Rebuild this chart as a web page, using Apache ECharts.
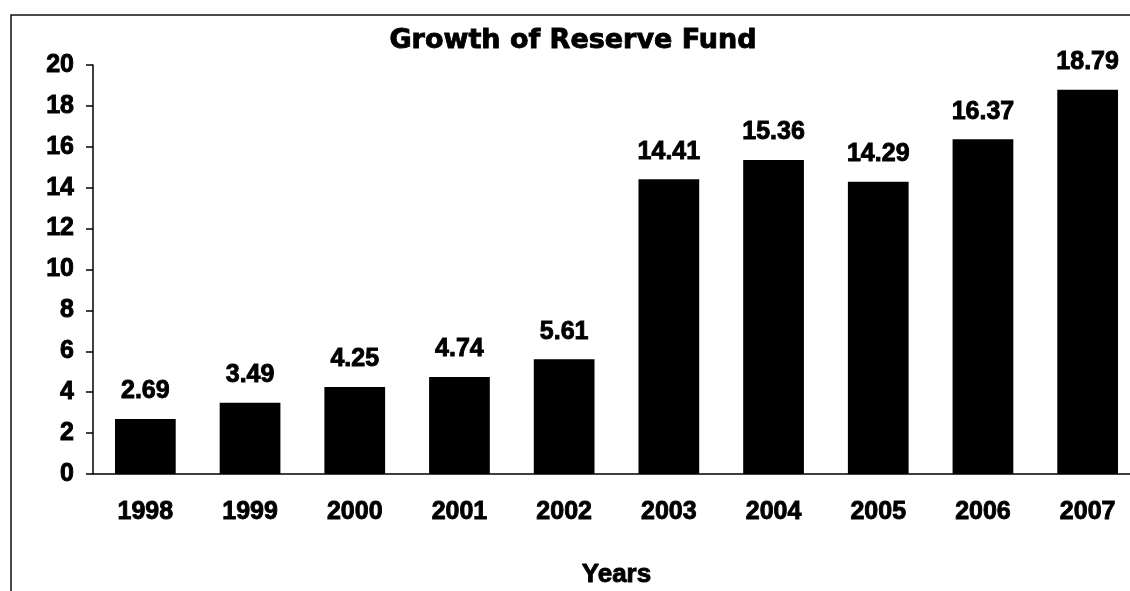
<!DOCTYPE html>
<html>
<head>
<meta charset="utf-8">
<title>Growth of Reserve Fund</title>
<script src="https://cdn.jsdelivr.net/npm/echarts@6/dist/echarts.min.js"></script>
<style>
  html, body { margin: 0; padding: 0; background: #ffffff; }
  #chart { width: 1130px; height: 591px; }
</style>
</head>
<body>
<div id="chart"></div>
<script>
// Reserve fund by year
const years = ['1998', '1999', '2000', '2001', '2002', '2003', '2004', '2005', '2006', '2007'];
const reserveFund = [2.69, 3.49, 4.25, 4.74, 5.61, 14.41, 15.36, 14.29, 16.37, 18.79];
const yTicks = [0, 2, 4, 6, 8, 10, 12, 14, 16, 18, 20];

const FONT = "'Liberation Sans', Arial, sans-serif";
const INK = '#000000';

// heavy black lettering
const heavy = { textBorderColor: INK, textBorderWidth: 0.9 };

const chart = echarts.init(document.getElementById('chart'));

chart.setOption({
  animation: false,
  backgroundColor: '#ffffff',
  title: {
    text: 'Growth of Reserve Fund',
    left: 568,
    top: 22,
    textAlign: 'center',
    textStyle: Object.assign({
      fontFamily: "'DejaVu Sans', sans-serif",
      fontWeight: 'bold',
      fontSize: 27,
      color: INK
    }, heavy)
  },
  // outer chart frame
  graphic: [{
    type: 'rect',
    shape: { x: 11, y: 15, width: 1300, height: 800 },
    style: { fill: 'none', stroke: '#111', lineWidth: 1.5 },
    silent: true
  }],
  grid: {
    left: 93,
    top: 65,
    width: 1047,
    bottom: 117,
    containLabel: false,
    outerBoundsMode: 'none'
  },
  xAxis: {
    type: 'category',
    data: years,
    name: 'Years',
    nameLocation: 'middle',
    nameGap: 88,
    nameTextStyle: Object.assign({
      fontFamily: FONT,
      fontWeight: 'bold',
      fontSize: 26,
      color: INK
    }, heavy),
    axisLine: { lineStyle: { color: INK, width: 1.5 } },
    axisTick: { alignWithLabel: false, length: 7, lineStyle: { color: INK, width: 1.5 } },
    axisLabel: Object.assign({
      margin: 26,
      fontFamily: FONT,
      fontWeight: 'bold',
      fontSize: 25,
      color: INK
    }, heavy),
    splitLine: { show: false }
  },
  yAxis: {
    type: 'value',
    min: yTicks[0],
    max: yTicks[yTicks.length - 1],
    interval: yTicks[1] - yTicks[0],
    axisLine: { show: true, lineStyle: { color: INK, width: 1.5 } },
    axisTick: { show: true, length: 7, lineStyle: { color: INK, width: 1.5 } },
    axisLabel: Object.assign({
      margin: 19,
      fontFamily: FONT,
      fontWeight: 'bold',
      fontSize: 25,
      color: INK
    }, heavy),
    splitLine: { show: false }
  },
  series: [{
    type: 'bar',
    data: reserveFund,
    barWidth: '58%',
    itemStyle: { color: INK },
    label: Object.assign({
      show: true,
      position: 'top',
      distance: 15,
      fontFamily: FONT,
      fontWeight: 'bold',
      fontSize: 25,
      color: INK,
      formatter: p => p.value.toFixed(2)
    }, heavy)
  }]
});
</script>
</body>
</html>
